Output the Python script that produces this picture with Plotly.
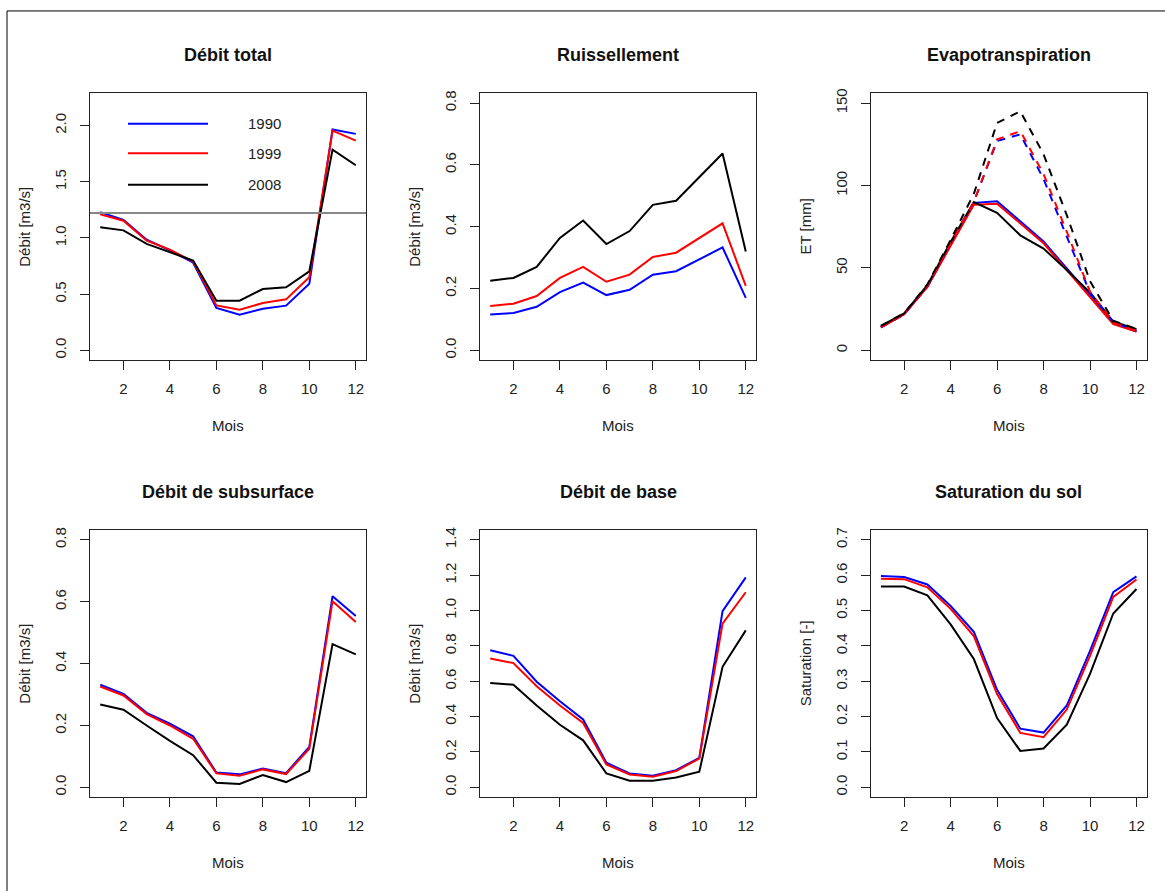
import plotly.graph_objects as go

# ---------------- data ----------------
months = [1, 2, 3, 4, 5, 6, 7, 8, 9, 10, 11, 12]
years = ["1990", "1999", "2008"]
colors = ["#0000FF", "#FF0000", "#000000"]

# Débit total [m3/s]
total_1990 = [1.23, 1.16, 0.985, 0.89, 0.78, 0.377, 0.317, 0.371, 0.398, 0.593, 1.965, 1.926]
total_1999 = [1.21, 1.154, 0.976, 0.896, 0.79, 0.40, 0.362, 0.421, 0.454, 0.65, 1.955, 1.866]
total_2008 = [1.095, 1.068, 0.947, 0.875, 0.80, 0.442, 0.442, 0.546, 0.561, 0.703, 1.786, 1.647]
total_ref = 1.222

# Ruissellement [m3/s]
ruis_1990 = [0.116, 0.121, 0.141, 0.1885, 0.2195, 0.179, 0.196, 0.245, 0.256, 0.2945, 0.333, 0.170]
ruis_1999 = [0.1435, 0.151, 0.176, 0.2345, 0.27, 0.222, 0.245, 0.302, 0.316, 0.364, 0.411, 0.209]
ruis_2008 = [0.225, 0.2345, 0.27, 0.364, 0.42, 0.344, 0.386, 0.471, 0.484, 0.562, 0.637, 0.32]

# Evapotranspiration [mm] (real = solid, potential = dashed)
et_1990 = [13.9, 22.0, 38.6, 63.8, 89.5, 90.5, 78.0, 66.0, 49.7, 33.6, 16.5, 11.5]
et_1999 = [13.9, 22.0, 38.6, 63.4, 88.3, 89.0, 77.0, 65.0, 48.7, 32.6, 16.0, 11.5]
et_2008 = [14.9, 22.5, 39.6, 65.8, 90.0, 83.5, 69.8, 61.8, 48.7, 35.2, 17.5, 12.9]
etp_1990 = [13.9, 22.0, 38.6, 65.0, 90.0, 127.0, 131.0, 104.0, 69.0, 35.0, 17.0, 12.0]
etp_1999 = [13.9, 22.0, 38.6, 65.0, 90.0, 128.0, 133.0, 107.0, 72.0, 35.6, 17.0, 12.0]
etp_2008 = [14.9, 22.5, 40.0, 67.0, 95.0, 138.0, 145.0, 119.0, 82.0, 42.0, 18.0, 13.0]

# Débit de subsurface [m3/s]
sub_1990 = [0.332, 0.302, 0.241, 0.2056, 0.165, 0.048, 0.042, 0.061, 0.046, 0.131, 0.618, 0.554]
sub_1999 = [0.326, 0.297, 0.237, 0.20, 0.157, 0.045, 0.0375, 0.058, 0.043, 0.125, 0.602, 0.535]
sub_2008 = [0.268, 0.251, 0.20, 0.15, 0.104, 0.015, 0.011, 0.040, 0.017, 0.0535, 0.463, 0.43]

# Débit de base [m3/s]
base_1990 = [0.776, 0.744, 0.598, 0.487, 0.384, 0.139, 0.079, 0.066, 0.097, 0.167, 0.997, 1.188]
base_1999 = [0.729, 0.703, 0.572, 0.463, 0.364, 0.129, 0.073, 0.060, 0.092, 0.163, 0.926, 1.104]
base_2008 = [0.590, 0.581, 0.463, 0.354, 0.266, 0.079, 0.037, 0.037, 0.056, 0.088, 0.682, 0.888]

# Saturation du sol [-]
sat_1990 = [0.598, 0.595, 0.574, 0.513, 0.44, 0.276, 0.166, 0.155, 0.2315, 0.386, 0.552, 0.597]
sat_1999 = [0.590, 0.589, 0.566, 0.505, 0.428, 0.264, 0.154, 0.142, 0.22, 0.372, 0.539, 0.588]
sat_2008 = [0.568, 0.568, 0.543, 0.461, 0.363, 0.196, 0.103, 0.110, 0.177, 0.321, 0.492, 0.561]

titles = ["Débit total", "Ruissellement", "Evapotranspiration",
          "Débit de subsurface", "Débit de base", "Saturation du sol"]
ylabels = ["Débit [m3/s]", "Débit [m3/s]", "ET [mm]",
           "Débit [m3/s]", "Débit [m3/s]", "Saturation [-]"]
xlabel = "Mois"
ylims = [(0, 2.2), (0, 0.8), (0, 150), (0, 0.8), (0, 1.4), (0, 0.7)]
yticks = [[0, 0.5, 1.0, 1.5, 2.0],
          [0, 0.2, 0.4, 0.6, 0.8],
          [0, 50, 100, 150],
          [0, 0.2, 0.4, 0.6, 0.8],
          [0, 0.2, 0.4, 0.6, 0.8, 1.0, 1.2, 1.4],
          [0, 0.1, 0.2, 0.3, 0.4, 0.5, 0.6, 0.7]]
ytickfmt = [".1f", ".1f", "d", ".1f", ".1f", ".1f"]
xticks = [2, 4, 6, 8, 10, 12]

panels = [
    [total_1990, total_1999, total_2008],
    [ruis_1990, ruis_1999, ruis_2008],
    [et_1990, et_1999, et_2008],
    [sub_1990, sub_1999, sub_2008],
    [base_1990, base_1999, base_2008],
    [sat_1990, sat_1999, sat_2008],
]
et_potential = [etp_1990, etp_1999, etp_2008]

# ---------------- layout geometry (pixels) ----------------
W, H = 1165, 891
FONT = "Liberation Sans, Arial, Helvetica, sans-serif"
col_left = [90, 480, 870.7]
col_right = [366, 756, 1146.7]
row_top = [88.7, 528]
row_bot = [357.3, 796.7]
title_y = [50, 490]
xlab_y = [423.3, 862.7]
ylab_dx = 65


def px(x):
    return x / W


def py(y):
    return 1 - y / H


fig = go.Figure()
annotations = []
shapes = []

for i in range(6):
    r, c = divmod(i, 3)
    n = i + 1
    xa = "x" if n == 1 else f"x{n}"
    ya = "y" if n == 1 else f"y{n}"
    for k in range(3):
        fig.add_trace(go.Scatter(
            x=months, y=panels[i][k], mode="lines",
            line=dict(color=colors[k], width=2),
            xaxis=xa, yaxis=ya, showlegend=False, hoverinfo="skip"))
    if i == 2:
        for k in range(3):
            fig.add_trace(go.Scatter(
                x=months, y=et_potential[k], mode="lines",
                line=dict(color=colors[k], width=2, dash="8px,7px"),
                xaxis=xa, yaxis=ya, showlegend=False, hoverinfo="skip"))

    lo, hi = ylims[i]
    pad = 0.04 * (hi - lo)
    axis_common = dict(
        showline=True, mirror=True, linecolor="#222", linewidth=1,
        showgrid=False, zeroline=False, ticks="outside", tickcolor="#222",
        tickwidth=1, ticklen=9,
        tickfont=dict(family=FONT, size=15, color="#222"),
    )
    fig.layout[f"xaxis{'' if n == 1 else n}"] = dict(
        axis_common, domain=[px(col_left[c]), px(col_right[c])],
        range=[1 - 0.44, 12 + 0.44], tickvals=xticks, anchor=ya,
        ticklabelstandoff=6)
    fig.layout[f"yaxis{'' if n == 1 else n}"] = dict(
        axis_common, domain=[py(row_bot[r]), py(row_top[r])],
        range=[lo - pad, hi + pad], tickvals=yticks[i], tickformat=ytickfmt[i],
        tickangle=-90, anchor=xa, ticklabelstandoff=8)

    cx = (col_left[c] + col_right[c]) / 2
    cy = (row_top[r] + row_bot[r]) / 2
    annotations.append(dict(text=f"<b>{titles[i]}</b>", x=px(cx), y=py(title_y[r]),
                            xref="paper", yref="paper", showarrow=False,
                            xanchor="center", yanchor="middle",
                            font=dict(family=FONT, size=18, color="#111")))
    annotations.append(dict(text=xlabel, x=px(cx), y=py(xlab_y[r]),
                            xref="paper", yref="paper", showarrow=False,
                            xanchor="center", yanchor="middle",
                            font=dict(family=FONT, size=15, color="#222")))
    annotations.append(dict(text=ylabels[i], x=px(col_left[c] - ylab_dx), y=py(cy),
                            xref="paper", yref="paper", showarrow=False,
                            textangle=-90, xanchor="center", yanchor="middle",
                            font=dict(family=FONT, size=15, color="#222")))

# reference line in "Débit total"
shapes.append(dict(type="line", xref="x domain", yref="y", x0=0, x1=1,
                   y0=total_ref, y1=total_ref, line=dict(color="#888888", width=2)))

# legend (drawn like R's legend, no box)
leg_y = [119.3, 149.0, 180.7]
for k in range(3):
    shapes.append(dict(type="line", xref="paper", yref="paper",
                       x0=px(128), x1=px(208), y0=py(leg_y[k]), y1=py(leg_y[k]),
                       line=dict(color=colors[k], width=2)))
    annotations.append(dict(text=years[k], x=px(264.5), y=py(leg_y[k]),
                            xref="paper", yref="paper", showarrow=False,
                            xanchor="center", yanchor="middle",
                            font=dict(family=FONT, size=15, color="#222")))

# outer frame (top and left edges)
shapes.append(dict(type="line", xref="paper", yref="paper", x0=px(7), x1=1,
                   y0=py(6), y1=py(6), line=dict(color="#000", width=1)))
shapes.append(dict(type="line", xref="paper", yref="paper", x0=px(7), x1=px(7),
                   y0=0, y1=py(6), line=dict(color="#000", width=1)))

fig.update_layout(width=W, height=H, margin=dict(l=0, r=0, t=0, b=0),
                  paper_bgcolor="white", plot_bgcolor="white",
                  annotations=annotations, shapes=shapes, showlegend=False)

fig.write_html(
    "out.html",
    config={"displayModeBar": False},
    post_script=(
        "document.body.style.margin='0';document.body.style.padding='0';"
        "document.documentElement.style.overflow='hidden';"
        "var gd=document.getElementById('{plot_id}');"
        "gd.style.position='fixed';gd.style.top='0px';gd.style.left='0px';"
    ),
)
